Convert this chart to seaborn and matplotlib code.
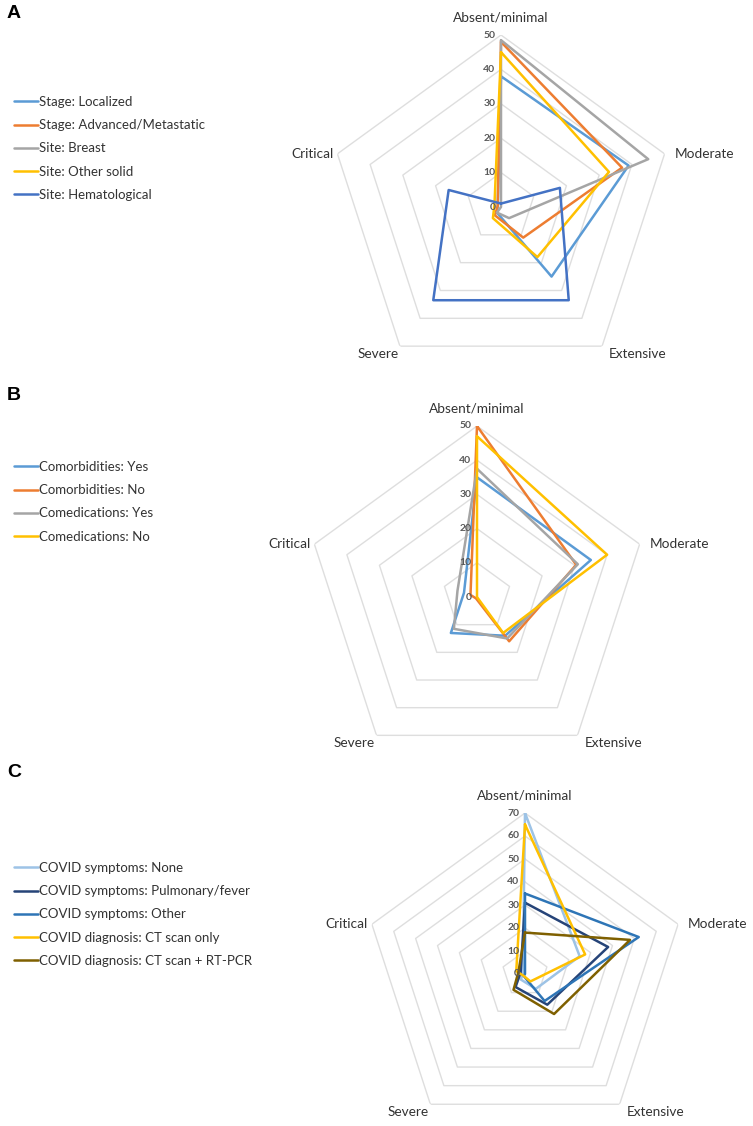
import numpy as np
import pandas as pd
import seaborn as sns
import matplotlib.pyplot as plt

# Kategorien (im Uhrzeigersinn ab oben)
categories = ["Absent/minimal", "Moderate", "Extensive", "Severe", "Critical"]

# Panel A
names_a = ["Stage: Localized", "Stage: Advanced/Metastatic", "Site: Breast",
           "Site: Other solid", "Site: Hematological"]
localized = [38, 39, 25, 2, 1]
advanced = [48, 37, 11, 3, 1]
breast = [48.5, 45, 4, 2, 0]
other_solid = [45, 33, 18, 4, 2]
hematological = [1, 18, 33.5, 33.5, 16]

# Panel B
names_b = ["Comorbidities: Yes", "Comorbidities: No", "Comedications: Yes", "Comedications: No"]
comorb_yes = [35, 35, 14, 13, 4]
comorb_no = [50, 30.5, 16, 0.5, 2]
comed_yes = [37.5, 31, 15, 11.5, 6]
comed_no = [47, 40, 13, 0, 0]

# Panel C
names_c = ["COVID symptoms: None", "COVID symptoms: Pulmonary/fever", "COVID symptoms: Other",
           "COVID diagnosis: CT scan only", "COVID diagnosis: CT scan + RT-PCR"]
sym_none = [70, 25, 8, 3, 1]
sym_pulm = [31, 38, 16.5, 7, 2]
sym_other = [35, 52, 14.5, 1, 0]
ct_only = [65, 27.5, 4, 1, 4]
ct_pcr = [18, 48, 21.5, 8.5, 3]

sns.set_theme(style="white")
plt.rcParams['font.family'] = ['Lato', 'DejaVu Sans']

W, H = 753, 1126
fig = plt.figure(figsize=(W / 100, H / 100), dpi=100)

theta = np.deg2rad([0, 72, 144, 216, 288])
theta_closed = np.append(theta, 2 * np.pi)
text_col = "#333333"


def radar(cx, cy, R, rmax, step, names, values, colors, leg_y, letter, letter_y):
    ax = fig.add_axes([(cx - R) / W, 1 - (cy + R) / H, 2 * R / W, 2 * R / H],
                      projection='polar')
    ax.set_theta_offset(np.pi / 2)
    ax.set_theta_direction(-1)
    ax.set_facecolor('none')

    # Raster (nur Fuenfecke, keine Speichen)
    for r in range(step, rmax + step, step):
        ax.plot(theta_closed, [r] * 6, color="#DEDEDE", lw=1, zorder=0)

    # Daten in Long-Form
    rows = []
    for n, v in zip(names, values):
        for t, val in zip(theta_closed, list(v) + [v[0]]):
            rows.append({"series": n, "theta": t, "value": val})
    df = pd.DataFrame(rows)
    sns.lineplot(data=df, x="theta", y="value", hue="series", hue_order=names,
                 palette=dict(zip(names, colors)), sort=False, estimator=None,
                 linewidth=1.8, ax=ax)

    ax.set_ylim(0, rmax)
    ax.grid(False)
    ax.spines['polar'].set_visible(False)
    ax.set_xticks([])
    ax.set_yticks([])
    ax.set_xlabel("")
    ax.set_ylabel("")

    # Achsenbeschriftung
    for r in range(0, rmax + step, step):
        ax.annotate(str(r), xy=(0, r), xytext=(-4, 0), textcoords='offset points',
                    ha='right', va='center', fontsize=7.5, color="#595959",
                    fontweight='bold')

    # Kategorien
    offs = [((0, 8), 'center', 'bottom'), ((7, 0), 'left', 'center'),
            ((5, -1), 'left', 'top'), ((-1, -1), 'right', 'top'),
            ((-3, 0), 'right', 'center')]
    for t, c, (o, ha, va) in zip(theta, categories, offs):
        ax.annotate(c, xy=(t, rmax), xytext=o, textcoords='offset points',
                    ha=ha, va=va, fontsize=9.8, color=text_col)

    sns.move_legend(ax, loc='upper left', bbox_to_anchor=(14 / W, 1 - leg_y / H),
                    bbox_transform=fig.transFigure, frameon=False, title=None,
                    fontsize=9.5, handlelength=1.8, handletextpad=0.1,
                    labelspacing=0.85, borderpad=0, borderaxespad=0,
                    labelcolor=text_col)

    fig.text(7 / W, 1 - letter_y / H, letter, fontsize=14, fontweight='bold',
             family='Liberation Sans', va='top', ha='left', color='black')


radar(501, 207, 172, 50, 10, names_a,
      [localized, advanced, breast, other_solid, hematological],
      ["#5B9BD5", "#ED7D31", "#A5A5A5", "#FFC000", "#4472C4"], 96, "A", 5)

radar(477, 597, 171, 50, 10, names_b,
      [comorb_yes, comorb_no, comed_yes, comed_no],
      ["#5B9BD5", "#ED7D31", "#A5A5A5", "#FFC000"], 461, "B", 387)

radar(525, 974, 161, 70, 10, names_c,
      [sym_none, sym_pulm, sym_other, ct_only, ct_pcr],
      ["#9DC3E6", "#264478", "#2E75B6", "#FFC000", "#7F6000"], 862, "C", 764)

fig.savefig("out.png", dpi=100)
